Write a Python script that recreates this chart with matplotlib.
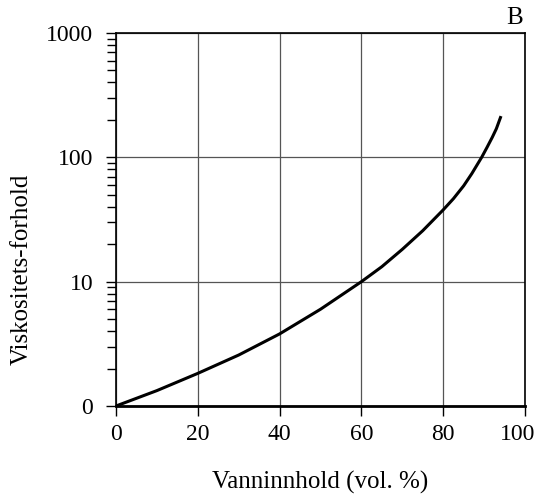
import matplotlib.pyplot as plt
import matplotlib.ticker as mticker
import matplotlib.transforms as mtransforms
from matplotlib import font_manager

# vanninnhold (vol. %) og viskositetsforhold
water = [0, 10, 20, 30, 40, 50, 60, 65, 70, 75, 80, 82.5, 85, 87, 89.4, 90.7, 92, 93, 94]
ratio = [1.0, 1.33, 1.83, 2.57, 3.8, 6.0, 10.0, 13.2, 18.2, 25.7, 37.8, 46.5, 59,
         74, 100, 120, 145, 170, 209]

y_ticks = [1, 10, 100, 1000]
y_labels = ['0', '10', '100', '1000']
x_ticks = [0, 20, 40, 60, 80, 100]

# bruk vanlig Liberation Serif
serif = [f for f in font_manager.findSystemFonts()
         if f.endswith('LiberationSerif-Regular.ttf')]
if serif:
    font_manager.fontManager.addfont(serif[0])
    fam = font_manager.FontProperties(fname=serif[0]).get_name()
else:
    fam = 'Liberation Serif'
plt.rcParams['font.family'] = [fam, 'DejaVu Serif']
plt.rcParams['font.size'] = 18

fig = plt.figure(figsize=(5.39, 4.97), dpi=100)
ax = fig.add_axes([116/539, 91/497, 409/539, 373/497])

ax.plot(water, ratio, color='black', lw=2.2)

ax.set_yscale('log')
ax.set_xlim(0, 100)
ax.set_ylim(1, 1000)
ax.set_xticks(x_ticks)
ax.set_yticks(y_ticks)
ax.set_yticklabels(y_labels)
ax.yaxis.set_minor_locator(mticker.LogLocator(base=10, subs=range(2, 10)))
ax.yaxis.set_minor_formatter(mticker.NullFormatter())

ax.grid(True, which='major', color='#555555', lw=0.9)
ax.tick_params(axis='y', which='major', direction='out', length=7.5, width=1,
               pad=9, labelsize=17)
ax.tick_params(axis='y', which='minor', direction='out', length=6.5, width=1)
ax.tick_params(axis='x', which='major', direction='out', length=7, width=1,
               pad=6, labelsize=17)
for s in ax.spines.values():
    s.set_linewidth(1.2)
ax.spines['bottom'].set_linewidth(2)

# siste x-etikett litt inn fra kanten
last = ax.get_xticklabels()[-1]
shift = mtransforms.ScaledTranslation(-5/72, 0, fig.dpi_scale_trans)
last.set_transform(last.get_transform() + shift)

ax.set_xlabel('Vanninnhold (vol. %)')
ax.xaxis.set_label_coords(0.5, -0.175)
ax.set_ylabel('Viskositets-forhold')
ax.yaxis.set_label_coords(-0.203, 0.367)
ax.text(0.995, 1.024, 'B', transform=ax.transAxes, ha='right', va='baseline')

fig.savefig('out.png', dpi=100)
